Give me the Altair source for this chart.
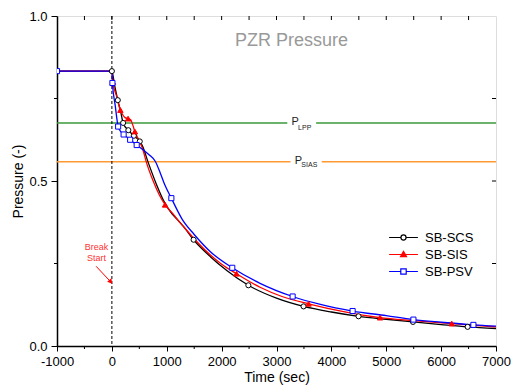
import altair as alt
import pandas as pd

# ---------------- data ----------------
series_names = ["SB-SCS", "SB-SIS", "SB-PSV"]
series_colors = ["#000000", "#ff0000", "#0000ff"]
marker_shapes = ["circle", "triangle-up", "square"]
marker_fills = ["#ffffff", "#ff0000", "#ffffff"]

scs_t = [-1000, 0, 50, 108, 160, 205, 300, 400, 508, 560, 658, 807, 957, 1100, 1195, 1315, 1489, 1800, 2100, 2487, 3000, 3493, 4000, 4495, 5000, 5487, 6000, 6483, 7000]
scs_p = [0.833, 0.833, 0.79, 0.745, 0.71, 0.676, 0.654, 0.637, 0.62, 0.605, 0.558, 0.492, 0.436, 0.40, 0.383, 0.36, 0.322, 0.27, 0.228, 0.184, 0.145, 0.120, 0.103, 0.090, 0.081, 0.073, 0.065, 0.058, 0.053]
scs_mk_t = [0, 108, 205, 300, 400, 508, 1489, 2487, 3493, 4495, 5487, 6483]
scs_mk_p = [0.833, 0.745, 0.676, 0.654, 0.637, 0.62, 0.322, 0.184, 0.120, 0.090, 0.073, 0.058]

sis_t = [-1000, 0, 17, 80, 155, 200, 240, 295, 340, 380, 419, 500, 568, 627, 747, 867, 970, 1136, 1195, 1315, 1500, 1800, 2000, 2271, 2700, 3100, 3584, 4200, 4888, 5500, 6194, 7000]
sis_p = [0.833, 0.833, 0.80, 0.76, 0.715, 0.70, 0.692, 0.689, 0.686, 0.67, 0.65, 0.622, 0.593, 0.558, 0.502, 0.457, 0.428, 0.396, 0.383, 0.36, 0.325, 0.275, 0.248, 0.219, 0.178, 0.150, 0.128, 0.105, 0.086, 0.077, 0.068, 0.058]
sis_mk_t = [17, 155, 295, 419, 970, 2271, 3584, 4888, 6194]
sis_mk_p = [0.80, 0.715, 0.689, 0.65, 0.428, 0.219, 0.128, 0.086, 0.068]

psv_t = [-1000, 0, 10, 60, 114, 160, 214, 333, 452, 568, 688, 790, 880, 960, 1084, 1285, 1500, 1800, 2194, 2700, 3294, 3800, 4387, 5000, 5495, 6000, 6588, 7000]
psv_p = [0.833, 0.833, 0.797, 0.73, 0.665, 0.65, 0.641, 0.625, 0.609, 0.595, 0.578, 0.560, 0.525, 0.490, 0.448, 0.383, 0.338, 0.285, 0.237, 0.19, 0.150, 0.126, 0.106, 0.092, 0.080, 0.072, 0.064, 0.060]
psv_mk_t = [-1000, 10, 114, 214, 333, 452, 1084, 2194, 3294, 4387, 5495, 6588]
psv_mk_p = [0.833, 0.797, 0.665, 0.641, 0.625, 0.609, 0.448, 0.237, 0.150, 0.106, 0.080, 0.064]

# setpoint lines (broken around their labels)
setpoint_p = [0.676, 0.676, 0.558, 0.558]
setpoint_t1 = [-1000, 3722, -1000, 3824]
setpoint_t2 = [3197, 7000, 3256, 7000]
setpoint_col = ["#3a9a3a", "#3a9a3a", "#ff9933", "#ff9933"]

label_text = ["P", "LPP", "P", "SIAS"]
label_t = [3274, 3394, 3333, 3453]
label_p = [0.679, 0.662, 0.560, 0.547]
label_size = [11, 7, 11, 7]

x_major = [-1000, 0, 1000, 2000, 3000, 4000, 5000, 6000, 7000]
x_minor = [-500, 500, 1500, 2500, 3500, 4500, 5500, 6500]
x_top = [-500, 0, 500, 1000, 1500, 2000, 2500, 3000, 3500, 4000, 4500, 5000, 5500, 6000, 6500]
y_major = [0.0, 0.5, 1.0]
y_minor = [0.25, 0.75]
y_right = [0.25, 0.5, 0.75]

W, H = 439, 330
FONT = "Liberation Sans"

xs = alt.Scale(domain=[-1000, 7000], nice=False, zero=False)
ys = alt.Scale(domain=[0, 1], nice=False, zero=False)

x_axis = alt.Axis(values=x_major, title="Time (sec)", labelFontSize=13,
                  labelExpr="datum.value < 0 ? '-' + abs(datum.value) : '' + datum.value",
                  titleFontSize=14, titleFontWeight="normal", labelFont=FONT, titleFont=FONT,
                  tickSize=5, tickColor="black", domainColor="black", domainWidth=1.5,
                  labelColor="black", titleColor="black", grid=False, labelPadding=4, titlePadding=2,
                  labelFlush=False, labelOverlap=False)
y_axis = alt.Axis(values=y_major, format=".1f", title="Pressure (-)", labelFontSize=13,
                  titleFontSize=14, titleFontWeight="normal", labelFont=FONT, titleFont=FONT,
                  tickSize=6, tickColor="black", domainColor="black", domainWidth=1.5,
                  labelColor="black", titleColor="black", grid=False, labelPadding=4, titlePadding=3,
                  labelFlush=False)

layers = []

# setpoint lines
sp_df = pd.DataFrame({"t": setpoint_t1, "t2": setpoint_t2, "p": setpoint_p, "c": setpoint_col})
layers.append(alt.Chart(sp_df).mark_rule(strokeWidth=1.5).encode(
    x=alt.X("t:Q", scale=xs, axis=x_axis), x2="t2:Q",
    y=alt.Y("p:Q", scale=ys, axis=y_axis), color=alt.Color("c:N", scale=None)))

# dotted break line
layers.append(alt.Chart(pd.DataFrame({"t": [0]})).mark_rule(strokeDash=[3, 2], strokeWidth=1, color="black").encode(
    x=alt.X("t:Q", scale=xs), y=alt.value(0), y2=alt.value(H)))

# curves
all_t = [scs_t, sis_t, psv_t]
all_p = [scs_p, sis_p, psv_p]
mk_t = [scs_mk_t, sis_mk_t, psv_mk_t]
mk_p = [scs_mk_p, sis_mk_p, psv_mk_p]
for i, name in enumerate(series_names):
    df = pd.DataFrame({"t": all_t[i], "p": all_p[i]})
    layers.append(alt.Chart(df).mark_line(strokeWidth=1.3, interpolate="monotone", clip=True,
                                          color=series_colors[i]).encode(
        x=alt.X("t:Q", scale=xs), y=alt.Y("p:Q", scale=ys)))
for i, name in enumerate(series_names):
    df = pd.DataFrame({"t": mk_t[i], "p": mk_p[i]})
    layers.append(alt.Chart(df).mark_point(shape=marker_shapes[i], size=26 if i != 1 else 30, filled=True,
                                           fill=marker_fills[i], stroke=series_colors[i], strokeWidth=1,
                                           opacity=1, clip=True).encode(
        x=alt.X("t:Q", scale=xs), y=alt.Y("p:Q", scale=ys)))

# setpoint labels
lab_df = pd.DataFrame({"t": label_t, "p": label_p, "txt": label_text, "s": label_size})
layers.append(alt.Chart(lab_df).mark_text(align="left", baseline="middle", font=FONT, color="#222222").encode(
    x=alt.X("t:Q", scale=xs), y=alt.Y("p:Q", scale=ys), text="txt:N", size=alt.Size("s:Q", scale=None)))

# chart title inside the plot
layers.append(alt.Chart(pd.DataFrame({"t": [3274], "p": [0.923], "txt": ["PZR Pressure"]})).mark_text(
    align="center", baseline="middle", font=FONT, fontSize=18, color="#999999").encode(
    x=alt.X("t:Q", scale=xs), y=alt.Y("p:Q", scale=ys), text="txt:N"))

# Break Start annotation
layers.append(alt.Chart(pd.DataFrame({"t": [-280, -280], "p": [0.30, 0.268], "txt": ["Break", "Start"]})).mark_text(
    align="center", baseline="middle", font=FONT, fontSize=9, color="#ff3333").encode(
    x=alt.X("t:Q", scale=xs), y=alt.Y("p:Q", scale=ys), text="txt:N"))
layers.append(alt.Chart(pd.DataFrame({"t": [-287], "t2": [-30], "p": [0.2415], "p2": [0.196]})).mark_rule(
    color="#ff0000", strokeWidth=1).encode(
    x=alt.X("t:Q", scale=xs), x2="t2:Q", y=alt.Y("p:Q", scale=ys), y2="p2:Q"))
layers.append(alt.Chart(pd.DataFrame({"t": [-30], "p": [0.196]})).mark_point(
    shape="triangle", angle=140, size=30, filled=True, color="#ff0000", opacity=1).encode(
    x=alt.X("t:Q", scale=xs), y=alt.Y("p:Q", scale=ys)))

# extra ticks: minor bottom/left outward, top/right inward
layers.append(alt.Chart(pd.DataFrame({"t": x_minor})).mark_rule(color="black", strokeWidth=1).encode(
    x=alt.X("t:Q", scale=xs), y=alt.value(H), y2=alt.value(H + 3)))
layers.append(alt.Chart(pd.DataFrame({"t": x_top})).mark_rule(color="black", strokeWidth=1).encode(
    x=alt.X("t:Q", scale=xs), y=alt.value(0), y2=alt.value(4)))
layers.append(alt.Chart(pd.DataFrame({"p": y_minor})).mark_rule(color="black", strokeWidth=1).encode(
    y=alt.Y("p:Q", scale=ys), x=alt.value(0), x2=alt.value(-3)))
layers.append(alt.Chart(pd.DataFrame({"p": y_right})).mark_rule(color="black", strokeWidth=1).encode(
    y=alt.Y("p:Q", scale=ys), x=alt.value(W), x2=alt.value(W - 4)))

# legend (line + marker symbols)
legend_paths = [
    "M-4.8,0H-0.85M0.85,0H4.8M-0.85,0A0.85,0.85,0,1,1,0.85,0A0.85,0.85,0,1,1,-0.85,0Z",
    "M-4.8,0H4.8M0,-1.05L1,0.7L-1,0.7Z",
    "M-4.8,0H-0.9M0.9,0H4.8M-0.9,-0.9H0.9V0.9H-0.9Z",
]
leg = alt.Legend(title=None, orient="none", legendX=340, legendY=215, labelFontSize=13, labelFont=FONT,
                 labelColor="black", padding=0, rowPadding=3, labelOffset=15, symbolSize=36,
                 symbolStrokeWidth=1.2, symbolOpacity=1)
leg_df = pd.DataFrame({"series": series_names})
layers.append(alt.Chart(leg_df).mark_point(filled=True, clip=True, opacity=1).encode(
    x=alt.value(-200), y=alt.value(-200),
    shape=alt.Shape("series:N", scale=alt.Scale(domain=series_names, range=legend_paths), legend=leg),
    stroke=alt.Stroke("series:N", scale=alt.Scale(domain=series_names, range=series_colors), legend=leg),
    fill=alt.Fill("series:N", scale=alt.Scale(domain=series_names, range=marker_fills), legend=leg)))

chart = alt.layer(*layers).properties(
    width=W, height=H,
    autosize=alt.AutoSizeParams(type="none"),
    padding={"left": 49, "top": 8, "right": 15, "bottom": 40},
).configure_view(stroke="black", strokeWidth=1.5).configure(background="white")

chart.save("out.html", embed_options={"renderer": "svg", "actions": False})
